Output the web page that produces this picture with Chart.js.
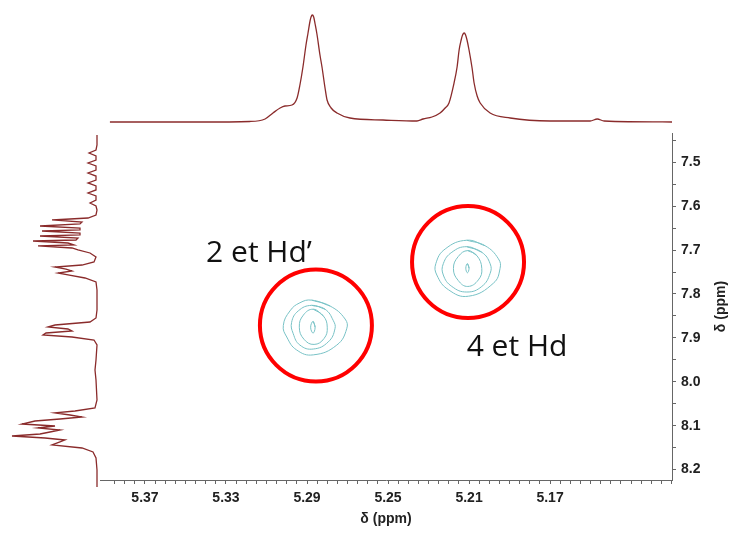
<!DOCTYPE html>
<html>
<head>
<meta charset="utf-8">
<script src="https://cdn.jsdelivr.net/npm/chart.js@4"></script>
<style>
  body { margin: 0; background: #fff; }
  #wrap { position: relative; width: 732px; height: 540px; }
  canvas { position: absolute; }
</style>
</head>
<body>
<div id="wrap">
  <canvas id="main" width="732" height="540" style="left:0;top:0"></canvas>
  <canvas id="top" width="572" height="133" style="left:100px;top:0"></canvas>
  <canvas id="side" width="100" height="355" style="left:0;top:133px"></canvas>
</div>
<script>
// axis ranges (ppm)
const xMin = 5.1098, xMax = 5.3922;
const yMin = 7.4332, yMax = 8.2238;

const xTickLabels = [5.37, 5.33, 5.29, 5.25, 5.21, 5.17];
const yTickLabels = [7.5, 7.6, 7.7, 7.8, 7.9, 8.0, 8.1, 8.2];

// F2 projection (top)
const topPpm = [5.3873, 5.3429, 5.3182, 5.3107, 5.3068, 5.3033, 5.3009, 5.2974, 5.2949, 5.2935,
  5.2920, 5.2905, 5.2895, 5.2885, 5.2880, 5.2874, 5.2867, 5.2860, 5.2851, 5.2836, 5.2826, 5.2811,
  5.2801, 5.2781, 5.2752, 5.2688, 5.2525, 5.2357, 5.2327, 5.2283, 5.2243, 5.2218, 5.2199, 5.2174,
  5.2159, 5.2149, 5.2139, 5.2132, 5.2124, 5.2117, 5.2110, 5.2100, 5.2085, 5.2075, 5.2060, 5.2045,
  5.1996, 5.1897, 5.1700, 5.1502, 5.1467, 5.1433, 5.1097];
const topIntensity = [0, 0, 0.5, 3, 9, 14, 16, 17, 24, 37,
  55, 77, 89, 101, 105, 107, 105, 98, 88, 67, 55, 34,
  22, 14, 9, 4, 2, 1, 3, 5, 9, 14, 19, 39,
  55, 72, 82, 87, 89, 87, 82, 72, 54, 39, 26, 19,
  9, 4, 1, 1, 3, 1, 0];

// F1 projection (left)
const sidePpm = [7.4376, 7.4599, 7.4710, 7.4777, 7.4844, 7.4933, 7.5000, 7.5067, 7.5156, 7.5223,
  7.5290, 7.5379, 7.5445, 7.5512, 7.5601, 7.5668, 7.5735, 7.5824, 7.5891, 7.5958, 7.6047, 7.6158,
  7.6225, 7.6269, 7.6314, 7.6358, 7.6403, 7.6448, 7.6492, 7.6514, 7.6559, 7.6603, 7.6626, 7.6670,
  7.6715, 7.6737, 7.6782, 7.6826, 7.6848, 7.6893, 7.6937, 7.7004, 7.7093, 7.7205, 7.7272, 7.7316,
  7.7361, 7.7405, 7.7450, 7.7494, 7.7561, 7.7650, 7.7828, 7.8051, 7.8274, 7.8452, 7.8541, 7.8608,
  7.8652, 7.8697, 7.8741, 7.8786, 7.8830, 7.8875, 7.8942, 7.9053, 7.9387, 7.9610, 7.9833, 8.0278,
  8.0456, 8.0523, 8.0567, 8.0612, 8.0657, 8.0701, 8.0746, 8.0813, 8.0857, 8.0902, 8.0946, 8.0991,
  8.1035, 8.1080, 8.1124, 8.1169, 8.1213, 8.1280, 8.1347, 8.1436, 8.1570, 8.1837, 8.2215];
const sideIntensity = [3, 3, 4, 11, 4, 4, 12, 4, 4, 12,
  4, 4, 12, 4, 4, 12, 4, 4, 10, 4, 3, 4,
  12, 48, 18, 20, 60, 20, 20, 58, 20, 20, 60, 22,
  24, 67, 32, 26, 62, 28, 22, 10, 4, 6, 18, 45,
  34, 28, 42, 32, 15, 4, 3, 3, 3, 4, 10, 45,
  52, 32, 28, 54, 57, 28, 6, 3, 4, 5, 4, 3,
  5, 25, 45, 30, 18, 40, 65, 78, 45, 62, 40, 50,
  60, 88, 55, 35, 40, 48, 18, 7, 4, 3, 3];

// contour levels, [ppm F2, ppm F1]
const peakA1 = [[5.2877, 7.8140], [5.2786, 7.8274], [5.2712, 7.8570], [5.2704, 7.8793], [5.2753, 7.9164],
  [5.2869, 7.9387], [5.2951, 7.9276], [5.3000, 7.8980], [5.3017, 7.8719], [5.2984, 7.8385], [5.2935, 7.8200]];
const peakA2 = [[5.2877, 7.8258], [5.2811, 7.8347], [5.2770, 7.8608], [5.2762, 7.8793], [5.2795, 7.9091],
  [5.2869, 7.9254], [5.2935, 7.9164], [5.2968, 7.8904], [5.2976, 7.8646], [5.2943, 7.8385]];
const peakA3 = [[5.2869, 7.8347], [5.2820, 7.8496], [5.2800, 7.8757], [5.2816, 7.9015],
  [5.2865, 7.9149], [5.2915, 7.9031], [5.2938, 7.8757], [5.2918, 7.8481]];
const peakA4 = [[5.2870, 7.8623], [5.2860, 7.8757], [5.2870, 7.8891], [5.2882, 7.8757]];

const peakB1 = [[5.2111, 7.6775], [5.2021, 7.6900], [5.1955, 7.7198], [5.1947, 7.7421], [5.1980, 7.7755],
  [5.2103, 7.8051], [5.2202, 7.7902], [5.2259, 7.7568], [5.2264, 7.7309], [5.2218, 7.6975]];
const peakB2 = [[5.2111, 7.6922], [5.2037, 7.7049], [5.1996, 7.7309], [5.1996, 7.7532], [5.2037, 7.7828],
  [5.2111, 7.7955], [5.2185, 7.7828], [5.2227, 7.7568], [5.2227, 7.7309], [5.2185, 7.7049]];
const peakB3 = [[5.2106, 7.7011], [5.2062, 7.7122], [5.2037, 7.7421], [5.2054, 7.7679],
  [5.2106, 7.7828], [5.2153, 7.7695], [5.2177, 7.7421], [5.2153, 7.7145]];
const peakB4 = [[5.2108, 7.7309], [5.2100, 7.7412], [5.2108, 7.7517], [5.2116, 7.7412]];

const contours = [peakA1, peakA2, peakA3, peakA4, peakB1, peakB2, peakB3, peakB4];

// red circles and labels
const circleX = [5.2856, 5.2105];
const circleY = [7.8719, 7.7272];
const noteText = ['2 et Hd\u2019', '4 et Hd'];
const noteX = [5.3137, 5.1863];
const noteY = [7.7071, 7.9209];

const traceColor = '#8a2b2b';
const contourColor = '#78c2c6';
const tickFont = { family: '"Liberation Sans", Arial, sans-serif', size: 14, weight: 'bold' };

function closed(pts) {
  const out = pts.map(p => ({ x: p[0], y: p[1] }));
  out.push({ x: pts[0][0], y: pts[0][1] });
  out.push({ x: pts[1][0], y: pts[1][1] });
  return out;
}

const notesPlugin = {
  id: 'notes',
  afterDatasetsDraw(chart) {
    const { ctx, scales: { x, y } } = chart;
    ctx.save();
    ctx.fillStyle = '#111';
    ctx.textAlign = 'center';
    ctx.textBaseline = 'middle';
    ctx.font = '30px "Open Sans"';
    noteText.forEach((t, i) => {
      ctx.fillText(t, x.getPixelForValue(noteX[i]), y.getPixelForValue(noteY[i]));
    });
    ctx.translate(721, (chart.chartArea.top + chart.chartArea.bottom) / 2);
    ctx.rotate(-Math.PI / 2);
    ctx.font = 'bold 14px "Liberation Sans", Arial, sans-serif';
    ctx.fillStyle = '#222';
    ctx.fillText('\u03b4 (ppm)', 0, 0);
    ctx.restore();
  }
};

const datasets = contours.map(c => ({
  data: closed(c),
  showLine: true,
  borderColor: contourColor,
  borderWidth: 1,
  pointRadius: 0,
  tension: 0.45
}));
datasets.push({
  data: circleX.map((v, i) => ({ x: v, y: circleY[i] })),
  pointRadius: 56,
  pointBorderWidth: 4,
  pointBorderColor: '#ff0000',
  pointBackgroundColor: 'rgba(0,0,0,0)',
  pointHoverRadius: 56
});

new Chart(document.getElementById('main'), {
  type: 'scatter',
  data: { datasets },
  plugins: [notesPlugin],
  options: {
    responsive: false,
    animation: false,
    events: [],
    layout: { padding: { left: 100, top: 133, right: 0, bottom: 0 } },
    plugins: { legend: { display: false }, tooltip: { enabled: false } },
    scales: {
      x: {
        type: 'linear', reverse: true, min: xMin, max: xMax,
        afterBuildTicks(s) {
          const t = [];
          for (let k = 0; k <= 55; k++) t.push({ value: Math.round((5.385 - k * 0.005) * 1000) / 1000 });
          s.ticks = t;
        },
        afterFit(s) { s.height = 52; },
        border: { display: true, color: '#666', width: 1 },
        grid: { drawOnChartArea: false, drawTicks: true, tickLength: 4, tickColor: '#666' },
        ticks: {
          autoSkip: false, maxRotation: 0, padding: 6, color: '#222', font: tickFont,
          callback(v) {
            const l = xTickLabels.find(t => Math.abs(t - v) < 1e-6);
            return l === undefined ? '' : l.toFixed(2);
          }
        },
        title: { display: true, text: '\u03b4 (ppm)', color: '#222', font: tickFont, padding: { top: 0, bottom: 4 } }
      },
      y: {
        type: 'linear', position: 'right', reverse: true, min: yMin, max: yMax,
        afterBuildTicks(s) {
          const t = [];
          for (let k = 0; k <= 15; k++) t.push({ value: Math.round((7.45 + k * 0.05) * 100) / 100 });
          s.ticks = t;
        },
        afterFit(s) { s.width = 60; },
        border: { display: true, color: '#666', width: 1 },
        grid: { drawOnChartArea: false, drawTicks: true, tickLength: 4, tickColor: '#666' },
        ticks: {
          autoSkip: false, padding: 5, color: '#222', font: tickFont,
          callback(v) {
            const l = yTickLabels.find(t => Math.abs(t - v) < 1e-6);
            return l === undefined ? '' : l.toFixed(1);
          }
        }
      }
    }
  }
});

// top 1D trace
new Chart(document.getElementById('top'), {
  type: 'scatter',
  data: {
    datasets: [{
      data: topPpm.map((v, i) => ({ x: v, y: topIntensity[i] })),
      showLine: true,
      borderColor: traceColor,
      borderWidth: 1.3,
      pointRadius: 0,
      cubicInterpolationMode: 'monotone'
    }]
  },
  options: {
    responsive: false,
    animation: false,
    events: [],
    layout: { padding: 0 },
    plugins: { legend: { display: false }, tooltip: { enabled: false } },
    scales: {
      x: { type: 'linear', reverse: true, min: xMin, max: xMax, display: false },
      y: { type: 'linear', min: -11, max: 122, display: false }
    }
  }
});

// left 1D trace
new Chart(document.getElementById('side'), {
  type: 'scatter',
  data: {
    datasets: [{
      data: sidePpm.map((v, i) => ({ x: sideIntensity[i], y: v })),
      showLine: true,
      borderColor: traceColor,
      borderWidth: 1.3,
      pointRadius: 0,
      tension: 0
    }]
  },
  options: {
    responsive: false,
    animation: false,
    events: [],
    layout: { padding: 0 },
    plugins: { legend: { display: false }, tooltip: { enabled: false } },
    scales: {
      x: { type: 'linear', reverse: true, min: 0, max: 100, display: false },
      y: { type: 'linear', reverse: true, min: yMin, max: yMax, display: false }
    }
  }
});
</script>
</body>
</html>
